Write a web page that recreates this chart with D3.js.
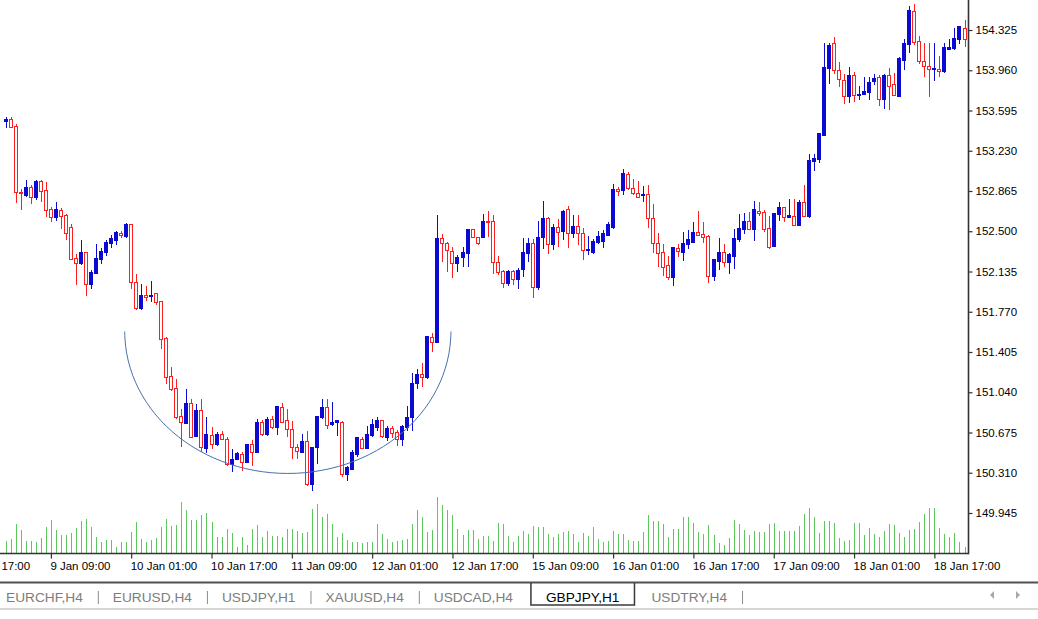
<!DOCTYPE html>
<html lang="en">
<head>
    <meta charset="UTF-8">
    <title>GBPJPY,H1</title>
    <style>
        body { margin: 0; background: #fff; }
        svg text { font-family: "Liberation Sans", Arial, sans-serif; }
        .axis text { font-size: 11.5px; fill: #000; }
        .axis line { stroke: #333; stroke-width: 1.2; }
        .tab { font-size: 13.7px; fill: #7d7d7d; }
        .tab.active { fill: #000; }
    </style>
</head>
<body>
    <svg id="chart" width="1038" height="619"></svg>

    <script src="https://d3js.org/d3.v7.min.js"></script>
    <script>
        // GBPJPY H1 bars, 9 Jan 00:00 .. 18 Jan 23:00
        const open = [
            153.498,153.513,153.453,152.853,152.826,152.901,152.805,152.947,152.871,152.696,
            152.623,152.690,152.644,152.538,152.251,152.205,152.305,152.017,152.115,152.242,
            152.311,152.393,152.417,152.478,152.453,152.560,152.038,151.797,151.918,151.911,
            151.933,151.866,151.524,151.182,151.070,150.819,150.758,150.934,150.637,150.879,
            150.534,150.646,150.564,150.655,150.616,150.389,150.434,150.473,150.403,150.564,
            150.494,150.767,150.655,150.789,150.716,150.903,150.782,150.698,150.540,150.494,
            150.594,150.201,150.540,150.807,150.903,150.746,150.767,150.767,150.292,150.344,
            150.480,150.607,150.534,150.646,150.721,150.782,150.630,150.707,150.676,150.607,
            150.721,150.812,151.121,151.200,151.170,151.539,151.493,152.433,152.387,152.320,
            152.211,152.260,152.302,152.514,152.442,152.447,152.592,152.592,152.220,152.138,
            152.024,152.138,152.060,152.151,152.296,152.387,151.987,152.442,152.614,152.381,
            152.532,152.502,152.696,152.483,152.544,152.478,152.326,152.311,152.402,152.411,
            152.463,152.538,152.878,152.871,153.017,152.887,152.841,152.826,152.835,152.614,
            152.393,152.311,152.190,152.078,152.347,152.311,152.381,152.402,152.493,152.472,
            152.453,152.090,152.229,152.311,152.220,152.272,152.423,152.514,152.592,152.514,
            152.683,152.674,152.523,152.363,152.653,152.714,152.629,152.635,152.553,152.765,
            152.635,153.137,153.150,153.371,153.977,154.204,153.961,153.870,153.719,153.916,
            153.728,153.741,153.755,153.855,153.895,153.695,153.916,153.834,153.725,154.052,
            154.197,154.491,154.218,154.037,153.998,153.968,153.968,153.946,154.149,154.158,
            154.240,154.340
        ];
        const high = [
            153.537,153.537,153.471,152.887,152.962,152.917,152.962,152.962,152.947,152.720,
            152.765,152.714,152.660,152.569,152.296,152.417,152.311,152.145,152.387,152.351,
            152.423,152.469,152.502,152.502,152.574,152.569,152.115,152.019,152.007,152.049,
            151.938,151.872,151.539,151.266,151.161,150.888,151.070,150.979,150.934,150.979,
            150.819,150.721,150.676,150.685,150.630,150.525,150.494,150.494,150.570,150.607,
            150.798,150.789,150.812,150.828,150.918,150.939,150.888,150.782,150.570,150.661,
            150.685,150.546,150.828,150.979,150.979,150.948,150.789,150.782,150.374,150.516,
            150.637,150.630,150.737,150.798,150.812,150.789,150.737,150.737,150.694,150.746,
            150.918,151.212,151.252,151.303,151.554,151.575,152.644,152.478,152.402,152.356,
            152.281,152.356,152.523,152.523,152.447,152.660,152.683,152.644,152.272,152.145,
            152.151,152.145,152.169,152.442,152.442,152.433,152.592,152.774,152.629,152.562,
            152.614,152.696,152.726,152.644,152.644,152.532,152.453,152.433,152.502,152.508,
            152.583,152.926,152.901,153.068,153.037,152.977,152.956,152.908,152.917,152.744,
            152.483,152.381,152.272,152.356,152.387,152.493,152.514,152.583,152.683,152.583,
            152.463,152.251,152.442,152.381,152.302,152.523,152.660,152.665,152.674,152.774,
            152.765,152.696,152.635,152.665,152.765,152.720,152.796,152.796,152.780,152.917,
            153.205,153.205,153.392,154.204,154.204,154.258,154.037,153.925,153.991,153.946,
            153.816,153.900,153.900,153.925,153.916,153.925,153.977,153.937,154.077,154.240,
            154.543,154.561,154.270,154.204,154.204,154.209,154.088,154.209,154.240,154.340,
            154.361,154.415
        ];
        const low = [
            153.432,153.432,152.760,152.690,152.810,152.750,152.780,152.765,152.629,152.583,
            152.592,152.523,152.417,152.236,152.017,152.190,151.911,151.972,152.108,152.199,
            152.272,152.347,152.372,152.442,152.442,151.972,151.788,151.788,151.872,151.857,
            151.827,151.433,151.116,151.055,150.800,150.540,150.752,150.625,150.630,150.494,
            150.485,150.525,150.555,150.607,150.373,150.313,150.425,150.328,150.394,150.373,
            150.492,150.646,150.646,150.707,150.655,150.758,150.630,150.434,150.434,150.485,
            150.192,150.146,150.389,150.798,150.707,150.737,150.646,150.267,150.231,150.334,
            150.449,150.525,150.525,150.630,150.691,150.625,150.601,150.625,150.555,150.555,
            150.691,150.691,151.070,151.085,151.161,151.403,151.493,152.220,152.129,152.078,
            152.129,152.175,152.175,152.442,152.372,152.442,152.447,152.108,152.099,151.988,
            152.008,152.017,151.978,152.084,152.220,151.897,151.969,152.342,152.290,152.326,
            152.356,152.417,152.351,152.442,152.372,152.235,152.281,152.296,152.381,152.351,
            152.453,152.523,152.817,152.826,152.878,152.826,152.805,152.765,152.532,152.302,
            152.175,152.090,152.054,152.008,152.265,152.229,152.342,152.393,152.453,152.393,
            152.029,152.047,152.145,152.175,152.108,152.160,152.402,152.478,152.508,152.411,
            152.635,152.493,152.342,152.356,152.592,152.583,152.623,152.544,152.544,152.629,
            152.623,153.047,153.119,153.371,153.834,153.925,153.804,153.652,153.659,153.673,
            153.689,153.734,153.689,153.825,153.634,153.613,153.598,153.725,153.713,153.961,
            154.118,154.188,154.016,153.900,153.719,153.864,153.900,153.937,154.143,154.143,
            154.197,154.173
        ];
        const close = [
            153.516,153.441,152.850,152.844,152.896,152.805,152.947,152.865,152.690,152.623,
            152.696,152.635,152.483,152.245,152.205,152.311,152.017,152.129,152.251,152.320,
            152.402,152.432,152.493,152.463,152.562,152.038,151.797,151.918,151.902,151.920,
            151.857,151.515,151.175,151.064,150.807,150.767,150.934,150.630,150.879,150.540,
            150.655,150.570,150.655,150.616,150.389,150.434,150.485,150.403,150.564,150.494,
            150.767,150.655,150.789,150.716,150.909,150.767,150.698,150.540,150.503,150.594,
            150.201,150.540,150.819,150.903,150.737,150.767,150.782,150.292,150.358,150.494,
            150.630,150.534,150.661,150.746,150.782,150.637,150.707,150.667,150.607,150.728,
            150.812,151.121,151.200,151.175,151.545,151.493,152.433,152.387,152.326,152.211,
            152.260,152.311,152.514,152.447,152.387,152.592,152.583,152.220,152.129,152.029,
            152.138,152.060,152.145,152.311,152.387,151.993,152.442,152.614,152.381,152.532,
            152.493,152.683,152.478,152.544,152.478,152.326,152.333,152.411,152.453,152.478,
            152.562,152.878,152.865,153.028,152.887,152.841,152.810,152.835,152.614,152.393,
            152.302,152.175,152.078,152.351,152.320,152.387,152.423,152.493,152.463,152.442,
            152.090,152.242,152.311,152.220,152.290,152.433,152.523,152.592,152.514,152.696,
            152.665,152.514,152.356,152.660,152.714,152.629,152.644,152.553,152.765,152.635,
            153.144,153.159,153.386,153.986,154.188,153.961,153.877,153.719,153.916,153.734,
            153.743,153.764,153.846,153.886,153.695,153.916,153.816,153.734,154.067,154.204,
            154.500,154.209,154.037,153.991,153.968,153.977,153.946,154.167,154.167,154.249,
            154.361,154.240
        ];
        const volume = [
            1230,1470,2970,2370,1300,1230,1130,1570,2700,3370,
            2370,1900,1900,2030,2570,3230,3470,2700,1700,1130,
            1370,1370,700,1130,1130,2130,3130,1470,1130,1370,
            1570,2630,3470,2800,2900,5130,4370,3370,3370,3900,
            4030,3130,1700,1700,2470,2030,630,1630,900,2470,
            2900,1630,2230,1800,1800,1700,2470,2470,2230,2030,
            2130,4470,4970,3700,3970,2970,1630,2030,1370,1130,
            1130,1030,1130,1130,2970,1970,1470,1130,1230,1370,
            1470,2970,4370,3630,2130,2370,5630,4900,4370,3900,
            2470,1900,2370,2370,1470,1800,1800,1300,3030,2970,
            1800,1130,1800,2300,1970,2800,2700,2700,1970,1700,
            1970,2130,2230,1970,1130,2030,1800,2700,1470,1130,
            1230,2230,1970,1970,1370,1300,1230,2130,3900,3230,
            3230,2970,1700,2470,2470,3700,3700,3030,2130,1970,
            2870,1900,1030,900,1570,3370,2970,2370,1900,2300,
            2130,2130,2970,3030,2230,2230,2230,2230,2800,3970,
            4570,3630,2030,3230,3230,3030,1570,1230,1370,3030,
            3030,1900,2570,1970,1630,2300,2970,2900,2030,1700,
            2370,2470,3130,3970,4570,4570,2570,1970,1630,2030,
            1130,630
        ];

        const priceTicks = [154.325, 153.960, 153.595, 153.230, 152.865, 152.500, 152.135,
                            151.770, 151.405, 151.040, 150.675, 150.310, 149.945];
        const timeTickIndex = [-7, 9, 25, 41, 57, 73, 89, 105, 121, 137, 153, 169, 185];
        const timeTickLabels = ["8 Jan 17:00", "9 Jan 09:00", "10 Jan 01:00", "10 Jan 17:00",
                                "11 Jan 09:00", "12 Jan 01:00", "12 Jan 17:00", "15 Jan 09:00",
                                "16 Jan 01:00", "16 Jan 17:00", "17 Jan 09:00", "18 Jan 01:00",
                                "18 Jan 17:00"];
        const tabs = ["EURCHF,H4", "EURUSD,H4", "USDJPY,H1", "XAUUSD,H4", "USDCAD,H4", "GBPJPY,H1", "USDTRY,H4"];
        const activeTab = "GBPJPY,H1";

        // rounding-bottom ellipse drawn on the chart (bar index / price units)
        const arcCenter = { index: 56.2, price: 151.591 };
        const arcRadius = { bars: 32.5, price: 1.288 };

        const bars = open.map((o, i) => ({ i: i, o: o, h: high[i], l: low[i], c: close[i], v: volume[i] }));

        const plotRight = 968.5, plotBottom = 553.5;
        const bull = "#0a0ad2", bear = "#ff1e1e";

        const svg = d3.select("#chart");

        const x = d3.scaleLinear().domain([0, bars.length - 1]).range([5.7, 964.5]);
        const y = d3.scaleLinear().domain([149.945, 154.325]).range([513, 30]);
        const yVol = d3.scaleLinear().domain([0, 6000]).range([plotBottom, plotBottom - 60]);
        const px = i => Math.round(x(i)) + 0.5;   // snap bars to the pixel grid

        svg.append("defs").append("clipPath").attr("id", "plot")
            .append("rect").attr("x", 0).attr("y", 0).attr("width", plotRight).attr("height", plotBottom);

        const plot = svg.append("g").attr("clip-path", "url(#plot)");

        // volumes
        plot.append("g")
            .attr("shape-rendering", "crispEdges")
            .selectAll("line")
            .data(bars)
            .enter().append("line")
            .attr("x1", d => px(d.i)).attr("x2", d => px(d.i))
            .attr("y1", plotBottom).attr("y2", d => yVol(d.v))
            .attr("stroke", "#5cc85c")
            .attr("stroke-width", 1);

        // candles
        const candle = plot.append("g")
            .attr("shape-rendering", "crispEdges")
            .selectAll("g")
            .data(bars)
            .enter().append("g");

        candle.append("line")
            .attr("x1", d => px(d.i)).attr("x2", d => px(d.i))
            .attr("y1", d => y(d.h)).attr("y2", d => y(d.l))
            .attr("stroke", d => d.c >= d.o ? bull : bear)
            .attr("stroke-width", 1);

        candle.append("rect")
            .attr("x", d => px(d.i) - 2)
            .attr("y", d => y(Math.max(d.o, d.c)))
            .attr("width", 3)
            .attr("height", d => Math.max(1, y(Math.min(d.o, d.c)) - y(Math.max(d.o, d.c))))
            .attr("fill", d => d.c >= d.o ? bull : "#fff")
            .attr("stroke", d => d.c >= d.o ? bull : bear)
            .attr("stroke-width", 1);

        // arc annotation
        const arcPts = d3.range(0, 61).map(k => {
            const t = Math.PI * k / 60;
            return [arcCenter.index - arcRadius.bars * Math.cos(t), arcCenter.price - arcRadius.price * Math.sin(t)];
        });
        plot.append("path")
            .attr("d", d3.line().x(d => x(d[0])).y(d => y(d[1])).curve(d3.curveBasis)(arcPts))
            .attr("fill", "none")
            .attr("stroke", "#4a6fb0")
            .attr("stroke-width", 1);

        // axes
        svg.append("g")
            .attr("class", "axis")
            .attr("transform", `translate(${plotRight},0)`)
            .call(d3.axisRight(y).tickValues(priceTicks).tickFormat(d3.format(".3f")).tickSize(4).tickPadding(3))
            .call(g => g.select(".domain").remove());

        const xAxis = svg.append("g")
            .attr("class", "axis")
            .attr("transform", `translate(0,${plotBottom})`)
            .call(d3.axisBottom(x).tickValues(timeTickIndex).tickFormat((d, k) => timeTickLabels[k]).tickSize(5).tickPadding(3))
            .call(g => g.select(".domain").remove());
        xAxis.selectAll("text").attr("text-anchor", "start").attr("x", -1);

        svg.append("line")
            .attr("x1", plotRight).attr("x2", plotRight).attr("y1", 0).attr("y2", plotBottom + 0.8)
            .attr("stroke", "#333").attr("stroke-width", 1.6);
        svg.append("line")
            .attr("x1", 0).attr("x2", plotRight).attr("y1", plotBottom).attr("y2", plotBottom)
            .attr("stroke", "#333").attr("stroke-width", 1.6);

        // tab strip
        svg.append("line").attr("x1", 0).attr("x2", 1038).attr("y1", 582.5).attr("y2", 582.5)
            .attr("stroke", "#505050").attr("stroke-width", 2);
        svg.append("line").attr("x1", 0).attr("x2", 1038).attr("y1", 609).attr("y2", 609)
            .attr("stroke", "#d6d6d6").attr("stroke-width", 2);

        const tabG = svg.append("g");
        let cx = 6;
        tabs.forEach((name, k) => {
            const isActive = name === activeTab;
            const t = tabG.append("text")
                .attr("class", isActive ? "tab active" : "tab")
                .attr("y", 602)
                .text(name);
            if (isActive) cx += 3;
            t.attr("x", cx);
            const w = t.node().getComputedTextLength();
            if (isActive) {
                const l = cx - 15, r = cx + w + 15;
                tabG.append("path")
                    .attr("d", `M${l},583 V605 H${r} V583`)
                    .attr("fill", "none").attr("stroke", "#3a3a3a").attr("stroke-width", 1.5);
                cx = r + 17;
            } else {
                const nextActive = tabs[k + 1] === activeTab;
                if (!nextActive) {
                    tabG.append("line")
                        .attr("x1", cx + w + 15.5).attr("x2", cx + w + 15.5)
                        .attr("y1", 591).attr("y2", 604)
                        .attr("stroke", "#8c8c8c").attr("stroke-width", 1);
                }
                cx += w + 30;
            }
        });

        // scroll arrows
        svg.append("path").attr("d", "M990,595 L994,591 V599 Z").attr("fill", "#a8a8a8");
        svg.append("path").attr("d", "M1020,595 L1016,591 V599 Z").attr("fill", "#a8a8a8");
    </script>
</body>
</html>
